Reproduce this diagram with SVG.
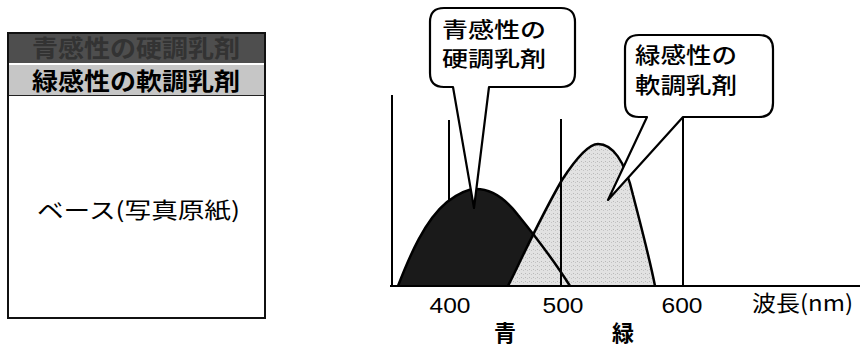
<svg xmlns="http://www.w3.org/2000/svg" width="867" height="348" viewBox="0 0 867 348">
<style>
.jp{font-family:"Noto Sans CJK JP","Noto Sans",sans-serif;}
.num{font-family:"Liberation Sans",Arial,sans-serif;}
.ax{stroke:#000;stroke-width:2;fill:none;}
.curve{stroke:#000;stroke-width:2.5;fill:none;stroke-linejoin:round;}
.callout{fill:#fff;stroke:#000;stroke-width:2.2;stroke-linejoin:round;}
</style>
<defs>
<pattern id="stip" width="4" height="4" patternUnits="userSpaceOnUse">
<rect width="4" height="4" fill="#e2e2e2"/>
<rect x="1" y="1" width="1" height="1" fill="#b8b8b8"/>
<rect x="3" y="2" width="1" height="1" fill="#c4c4c4"/>
</pattern>
</defs>
<rect width="867" height="348" fill="#fff"/>

<g id="layer-stack">
<rect x="8" y="33" width="257" height="285" fill="#fff" stroke="#111" stroke-width="2"/>
<g id="layer-blue">
<rect x="9" y="34" width="255" height="29" fill="#4e4e4e"/>
<text class="jp" x="32" y="57" font-size="24" font-weight="bold" fill="#333" textLength="208" lengthAdjust="spacingAndGlyphs">青感性の硬調乳剤</text>
</g>
<g id="layer-green">
<rect x="9" y="65" width="255" height="30" fill="#c6c6c6"/>
<line x1="9" y1="95.5" x2="264" y2="95.5" stroke="#222" stroke-width="1"/>
<text class="jp" x="32" y="90" font-size="24" font-weight="bold" fill="#000" textLength="208" lengthAdjust="spacingAndGlyphs">緑感性の軟調乳剤</text>
</g>
<g id="layer-base">
<text class="jp" x="37" y="218" font-size="22" fill="#000" textLength="203" lengthAdjust="spacingAndGlyphs">ベース(写真原紙)</text>
</g>
</g>

<g id="chart">
<g id="axes-back">
<line class="ax" x1="449" y1="120" x2="449" y2="286"/>
</g>
<g id="curves">
<path d="M398,286 C410,255 425,220 447,202 C460,192 470,189 476,189 C490,189 505,198 518,215 C535,236 555,262 570,286 Z" fill="#1a1a1a"/>
<path d="M508,286 C520,262 540,218 562,180 C575,160 588,144 598,144 C612,144 625,160 633,195 C642,230 650,260 655,286 Z" fill="url(#stip)"/>
<path class="curve" d="M398,286 C410,255 425,220 447,202 C460,192 470,189 476,189 C490,189 505,198 518,215 C535,236 555,262 570,286"/>
<path class="curve" d="M508,286 C520,262 540,218 562,180 C575,160 588,144 598,144 C612,144 625,160 633,195 C642,230 650,260 655,286"/>
</g>
<g id="axes">
<line class="ax" x1="392" y1="95" x2="392" y2="286"/>
<line class="ax" x1="561" y1="119" x2="561" y2="286"/>
<line class="ax" x1="683" y1="117" x2="683" y2="286"/>
<line class="ax" x1="390" y1="286" x2="860" y2="286"/>
</g>
<g id="labels">
<text class="num" x="450" y="313" font-size="22" text-anchor="middle" textLength="41" lengthAdjust="spacingAndGlyphs">400</text>
<text class="num" x="563" y="313" font-size="22" text-anchor="middle" textLength="41" lengthAdjust="spacingAndGlyphs">500</text>
<text class="num" x="682" y="313" font-size="22" text-anchor="middle" textLength="41" lengthAdjust="spacingAndGlyphs">600</text>
<text class="jp" x="752" y="311" font-size="22" textLength="101" lengthAdjust="spacingAndGlyphs">波長(nm)</text>
<text class="jp" x="505" y="341" font-size="22" font-weight="bold" text-anchor="middle">青</text>
<text class="jp" x="623" y="341" font-size="22" font-weight="bold" text-anchor="middle">緑</text>
</g>
</g>

<g id="callout-blue">
<path class="callout" d="M489,87 L561,87 Q575,87 575,73 L575,22 Q575,8 561,8 L444,8 Q430,8 430,22 L430,73 Q430,87 444,87 L453,87 L474,208 Z"/>
<text class="jp" x="442" y="37" font-size="21" font-weight="500" textLength="104" lengthAdjust="spacingAndGlyphs">青感性の</text>
<text class="jp" x="442" y="66" font-size="21" font-weight="500" textLength="104" lengthAdjust="spacingAndGlyphs">硬調乳剤</text>
</g>

<g id="callout-green">
<path class="callout" d="M683,117 L759,117 Q773,117 773,103 L773,49 Q773,35 759,35 L639,35 Q625,35 625,49 L625,103 Q625,117 639,117 L647,117 L608,200 Z"/>
<text class="jp" x="635" y="63" font-size="22" font-weight="500" textLength="102" lengthAdjust="spacingAndGlyphs">緑感性の</text>
<text class="jp" x="635" y="93" font-size="22" font-weight="500" textLength="102" lengthAdjust="spacingAndGlyphs">軟調乳剤</text>
</g>
</svg>
